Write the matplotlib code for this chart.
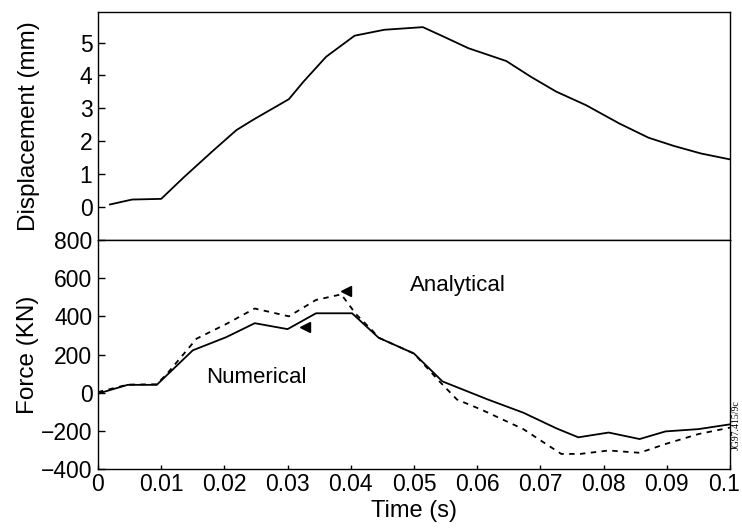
import matplotlib
matplotlib.use("Agg")
import matplotlib.pyplot as plt
from matplotlib.transforms import ScaledTranslation

plt.rcParams['font.family'] = ['Liberation Sans', 'DejaVu Sans']

# Displacement history (time in s, displacement in mm)
disp_t = [0.0019, 0.0054, 0.0100, 0.0136, 0.0183, 0.0219, 0.0246, 0.0302, 0.0325,
          0.0361, 0.0406, 0.0453, 0.0514, 0.0547, 0.0586, 0.0646, 0.0685, 0.0725,
          0.0772, 0.0825, 0.0871, 0.0911, 0.0954, 0.1000]
disp_mm = [0.08, 0.23, 0.25, 0.91, 1.73, 2.34, 2.66, 3.28, 3.81,
           4.57, 5.21, 5.39, 5.47, 5.18, 4.83, 4.44, 3.96, 3.51,
           3.10, 2.54, 2.11, 1.86, 1.63, 1.45]

# Force history, numerical solution (kN)
num_t = [0.0000, 0.0047, 0.0093, 0.0150, 0.0203, 0.0248, 0.0300, 0.0345, 0.0402,
         0.0444, 0.0500, 0.0545, 0.0617, 0.0673, 0.0726, 0.0760, 0.0808, 0.0857,
         0.0898, 0.0950, 0.1000]
num_f = [-5, 41, 41, 222, 291, 364, 333, 416, 416,
         288, 205, 59, -36, -105, -188, -234, -209, -243,
         -203, -191, -166]

# Force history, analytical solution (kN)
ana_t = [0.0000, 0.0047, 0.0093, 0.0110, 0.0156, 0.0203, 0.0248, 0.0302, 0.0345,
         0.0385, 0.0408, 0.0434, 0.0444, 0.0500, 0.0540, 0.0568, 0.0606, 0.0673,
         0.0733, 0.0763, 0.0808, 0.0857, 0.0898, 0.0950, 0.1000]
ana_f = [3, 42, 44, 102, 283, 360, 441, 400, 486,
         515, 412, 326, 288, 205, 60, -36, -88, -191,
         -321, -321, -303, -315, -269, -217, -183]

x_ticks = [0, 0.01, 0.02, 0.03, 0.04, 0.05, 0.06, 0.07, 0.08, 0.09, 0.1]
x_tick_labels = ['0', '0.01', '0.02', '0.03', '0.04', '0.05', '0.06', '0.07',
                 '0.08', '0.09', '0.1']
disp_ticks = [0, 1, 2, 3, 4, 5]
force_ticks = [-400, -200, 0, 200, 400, 600, 800]

fig = plt.figure(figsize=(7.42, 5.30), dpi=100)
ax_top = fig.add_axes([98 / 742, 1 - 240 / 530, 632 / 742, 228 / 530])
ax_bot = fig.add_axes([98 / 742, 1 - 469 / 530, 632 / 742, 229 / 530])

lw = 1.3
ax_top.plot(disp_t, disp_mm, color='black', lw=lw)
ax_bot.plot(num_t, num_f, color='black', lw=lw)
ax_bot.plot(ana_t, ana_f, color='black', lw=lw, linestyle=(0, (3, 3)))

for ax in (ax_top, ax_bot):
    ax.set_xlim(0, 0.1)
    for s in ax.spines.values():
        s.set_linewidth(1.0)
    ax.tick_params(direction='in', length=5, width=1, labelsize=16.5,
                   top=False, right=False, pad=4)

ax_top.set_ylim(-1.0, 5.93)
ax_top.set_yticks(disp_ticks)
ax_top.set_xticks([])
ax_top.set_ylabel('Displacement (mm)', fontsize=17.5)
ax_top.yaxis.set_label_coords(-0.091, 0.5)

ax_bot.set_ylim(-400, 800)
ax_bot.set_yticks(force_ticks)
ax_bot.set_xticks(x_ticks)
ax_bot.set_xticklabels(x_tick_labels)
ax_bot.tick_params(axis='x', length=3, pad=3)
ax_bot.set_ylabel('Force (KN)', fontsize=17.5)
ax_bot.yaxis.set_label_coords(-0.093, 0.5)
ax_bot.set_xlabel('Time (s)', fontsize=17, labelpad=3)

# keep the last time label inside the figure edge
last = ax_bot.get_xticklabels()[-1]
last.set_transform(last.get_transform() + ScaledTranslation(-6 / 100, 0, fig.dpi_scale_trans))

# Curve labels with small pointer heads
ax_bot.text(0.057, 560, 'Analytical', fontsize=16, ha='center', va='center')
ax_bot.text(0.0251, 78, 'Numerical', fontsize=16, ha='center', va='center')
ax_bot.plot([0.0393], [535], marker='<', color='black', markersize=6.5, clip_on=False)
ax_bot.plot([0.0327], [343], marker='<', color='black', markersize=6.5, clip_on=False)

fig.text(0.9925, 0.198, 'JG97.415/9c', rotation=90, fontsize=7,
         family='Liberation Serif', ha='center', va='center')

fig.savefig('out.png', dpi=100)
